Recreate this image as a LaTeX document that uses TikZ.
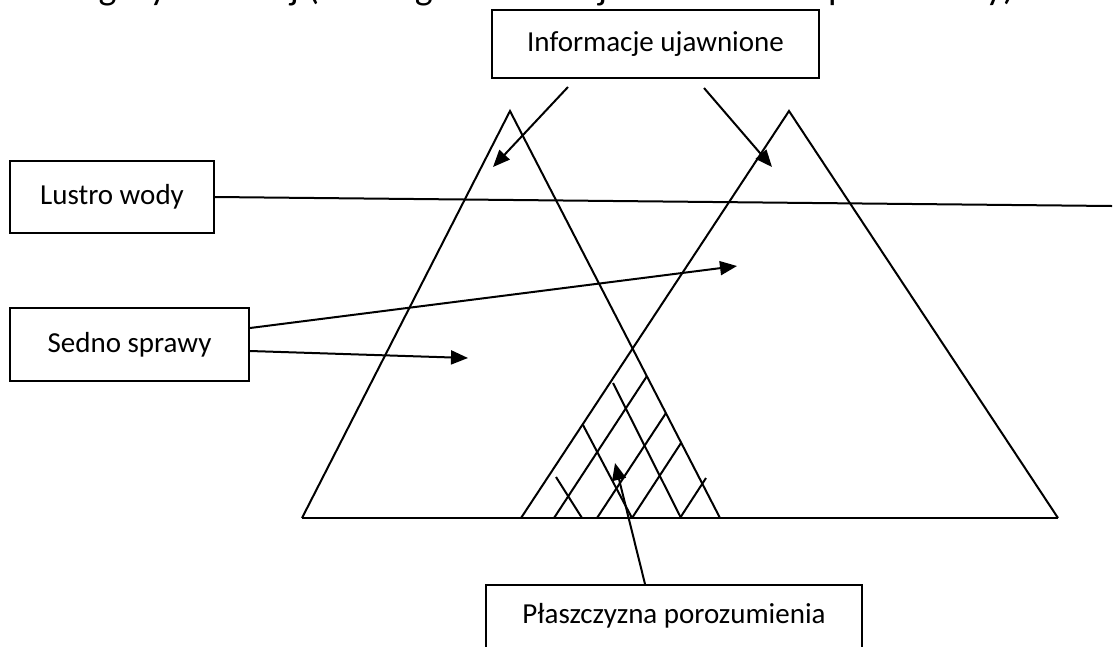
\documentclass[tikz,border=0pt]{standalone}
\usepackage{fontspec}
\setmainfont{Carlito}
\usetikzlibrary{arrows.meta,calc}
\begin{document}
\begin{tikzpicture}[x=1pt,y=-1pt,
  line width=2pt,
  box/.style={draw, rectangle, inner sep=0pt, line width=2pt,
    font=\fontsize{29}{33}\selectfont},
  arr/.style={-{Triangle[length=17pt,width=14pt]}},
  edge/.style={line width=2pt}]
\useasboundingbox (0,0) rectangle (1115,646);
\begin{scope}
\clip (0,0) rectangle (1115,646);
\node[anchor=base west, inner sep=0pt, font=\fontsize{38}{40}\selectfont] (title) at (-11,-1)
  {Model góry lodowej (na tle gier stron – jak to ukazano podział Ury)};
\end{scope}

% boxes
\node[box, minimum width=327pt, minimum height=68pt] (info) at (655.5,44) {Informacje ujawnione};
\node[box, minimum width=204pt, minimum height=72pt] (lustro) at (112,197) {Lustro wody};
\node[box, minimum width=239pt, minimum height=73pt] (sedno) at (129.5,344.5) {Sedno sprawy};
\node[box, minimum width=376pt, minimum height=72pt, text height=21pt, text depth=17pt] (plasz) at (674,621) {Płaszczyzna porozumienia};

% triangles and base
\draw[edge, line join=miter] (302,518) -- (510,111) -- (720,518);
\draw[edge, line join=miter] (521,518) -- (789,111) -- (1058,518);
\draw[edge] (302,518) -- (1058,518);

% hatching
\draw[edge] (554,518) -- (647,376);
\draw[edge] (597,518) -- (666,413);
\draw[edge] (632,518) -- (681,443);
\draw[edge] (680,518) -- (706,478);
\draw[edge] (613,383) -- (681,518);
\draw[edge] (583,425) -- (632,518);
\draw[edge] (556,477) -- (582,518);

% connector end points
\coordinate (i1s) at (568,87);
\coordinate (i1e) at (493,167);
\coordinate (i2s) at (704,88);
\coordinate (i2e) at (772,167);
\coordinate (lend) at (1112,206);
\coordinate (s1e) at (737,266);
\coordinate (s2e) at (468,358);
\coordinate (pe) at (615,463);

% connectors
\draw[edge, arr] (i1s) -- (i1e);
\draw[edge, arr] (i2s) -- (i2e);
\draw[edge] (lustro.east) -- (lend);
\draw[edge, arr] ($(sedno.east)+(0,-16.5)$) -- (s1e);
\draw[edge, arr] ($(sedno.east)+(0,6.5)$) -- (s2e);
\draw[edge, arr] ($(plasz.north west)+(160,0)$) -- (pe);
\end{tikzpicture}
\end{document}
